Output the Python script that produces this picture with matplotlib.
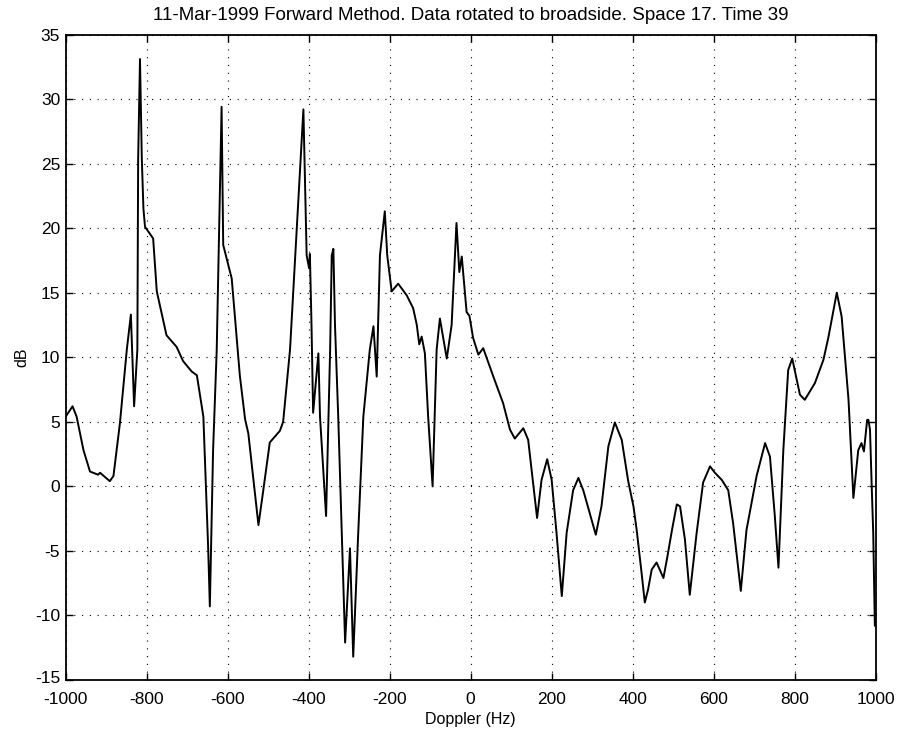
import matplotlib.pyplot as plt
import matplotlib.transforms as mtransforms
import numpy as np

plt.rcParams['font.family'] = ['Liberation Sans', 'DejaVu Sans']
plt.rcParams['axes.unicode_minus'] = False

# Doppler frequency (Hz) and power (dB)
doppler = [
    -1000, -983, -973, -956, -940, -920, -915, -891, -882, -866,
    -849, -839, -831, -823, -821, -816.5, -812, -808, -804, -784,
    -775, -751, -726, -710, -689, -676, -660, -648, -644, -636,
    -627, -615, -611, -590, -570, -557, -549, -524, -512, -496,
    -471, -463, -446, -438, -422, -413, -405, -399, -397, -393,
    -389, -376, -372, -357, -347, -343, -339, -335, -327, -310,
    -298, -290, -278, -265, -249, -240, -232, -224, -212, -206,
    -195, -179, -158, -142, -133, -127, -121, -113, -105, -94,
    -84, -76, -59, -47, -35, -28, -22, -10, -3, 6,
    19, 31, 56, 80, 97, 109, 130, 142, 155, 164,
    175, 189, 200, 212, 225, 237, 253, 266, 278, 309,
    323, 340, 356, 373, 389, 402, 410, 422, 430, 438,
    447, 459, 476, 486, 497, 509, 517, 529, 541, 558,
    574, 591, 603, 620, 636, 648, 667, 681, 706, 727,
    739, 751, 760, 772, 784, 794, 813, 825, 850, 871,
    883, 904, 916, 933, 945, 957, 965, 971, 979, 982,
    986, 990, 994, 998, 1000,
]
power_db = [
    5.4, 6.2, 5.4, 2.8, 1.15, 0.9, 1.05, 0.4, 0.8, 4.9,
    10.6, 13.3, 6.2, 10.6, 25.4, 33.1, 25.4, 21.5, 20.1, 19.2,
    15.1, 11.7, 10.8, 9.7, 8.9, 8.6, 5.4, -4.9, -9.3, 2.8,
    10.6, 29.4, 18.7, 16.1, 8.6, 5.2, 4.1, -3.0, -0.3, 3.4,
    4.3, 5.0, 10.6, 15.1, 24.1, 29.2, 17.9, 16.9, 18.0, 12.5,
    5.7, 10.3, 5.4, -2.3, 10.6, 17.9, 18.4, 12.5, 5.4, -12.1,
    -4.8, -13.2, -3.9, 5.4, 10.6, 12.4, 8.5, 17.9, 21.3, 17.9,
    15.1, 15.7, 14.8, 13.8, 12.5, 11.0, 11.6, 10.3, 5.4, 0.0,
    10.6, 13.0, 9.9, 12.5, 20.4, 16.6, 17.8, 13.5, 13.2, 11.5,
    10.2, 10.7, 8.5, 6.45, 4.4, 3.7, 4.5, 3.6, 0.0, -2.45,
    0.5, 2.1, 0.5, -3.6, -8.5, -3.6, -0.3, 0.65, -0.3, -3.75,
    -1.55, 3.1, 4.95, 3.6, 0.4, -1.55, -3.4, -6.7, -9.0, -8.0,
    -6.45, -5.9, -7.1, -5.4, -3.4, -1.4, -1.55, -4.1, -8.4, -3.6,
    0.3, 1.55, 1.05, 0.5, -0.3, -2.85, -8.1, -3.4, 0.8, 3.35,
    2.3, -2.3, -6.3, 2.8, 9.0, 9.9, 7.1, 6.7, 8.0, 9.8,
    11.5, 15.0, 13.15, 6.7, -0.9, 2.8, 3.35, 2.7, 5.15, 5.15,
    4.4, 0.25, -3.6, -10.8, -10.8,
]

fig = plt.figure(figsize=(9.02, 7.31), dpi=100)
ax = fig.add_axes([0.0728, 0.0698, 0.898, 0.883])

ax.plot(doppler, power_db, color='black', linewidth=1.4)

ax.set_xlim(-1000, 1000)
ax.set_ylim(-15, 35)
ax.set_xticks(np.arange(-1000, 1001, 200))
ax.set_yticks(np.arange(-15, 36, 5))

ax.grid(True, color='black', linestyle=(0, (1, 6)), linewidth=0.8)
ax.tick_params(direction='in', top=True, right=True, length=5, width=1,
               labelsize=12.5)
ax.tick_params(axis='x', pad=8.5)
ax.tick_params(axis='y', pad=4)
for s in ax.spines.values():
    s.set_linewidth(1.3)

# nudge the bottom y label up a little so it clears "-1000"
lowest = ax.get_yticklabels()[0]
lowest.set_transform(lowest.get_transform() +
                     mtransforms.ScaledTranslation(0, 2 / 72, fig.dpi_scale_trans))

ax.set_xlabel('Doppler (Hz)', fontsize=11.5, labelpad=3.5)
ax.set_ylabel('dB', fontsize=11.5, labelpad=4)
ax.set_title('11-Mar-1999 Forward Method. Data rotated to broadside. Space 17. Time 39',
             fontsize=13.5, pad=10.5)

plt.savefig('out.png', dpi=100)
